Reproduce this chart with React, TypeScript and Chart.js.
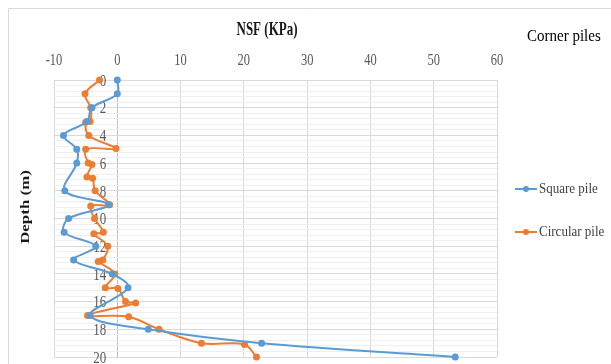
import React, { useEffect, useRef } from "react";
import { Chart, registerables } from "chart.js";

Chart.register(...registerables);

const chartTitle = "NSF (KPa)";
const sideTitle = "Corner piles";
const yTitle = "Depth (m)";
const seriesNames = ["Square pile", "Circular pile"];
const xTickLabels = [-10, 0, 10, 20, 30, 40, 50, 60];
const depthLabels = [0, 2, 4, 6, 8, 10, 12, 14, 16, 18, 20];

const squareDepth = [0, 1, 2, 3, 4, 5, 6, 8, 9, 10, 11, 12, 13, 14, 15, 17, 18, 19, 20];
const squareNSF = [0, 0, -4.0, -4.8, -8.5, -6.4, -6.4, -8.3, -1.4, -7.7, -8.4, -3.4, -6.9, -0.8, 1.7, -4.3, 4.9, 22.8, 53.4];

const circularDepth = [0, 1, 2, 3, 3.05, 4, 4.95, 5, 6, 6.1, 7, 7.1, 8, 9, 9.1, 10, 11, 11.1, 12, 13, 13.1, 14, 15, 15.05, 16, 16.1, 17, 17.1, 18, 19, 19.1, 20];
const circularNSF = [-2.8, -5.1, -4.2, -4.3, -5.0, -4.5, -0.2, -5.0, -4.6, -4.0, -4.8, -3.9, -3.5, -1.2, -4.2, -3.6, -2.2, -3.7, -1.5, -2.3, -3.0, -0.4, -1.9, 0.1, 1.3, 2.9, -4.7, 1.8, 6.6, 13.3, 20.1, 22.0];

const BLUE = "#5b9bd5";
const ORANGE = "#ed7d31";
const FONT = "'Liberation Serif', 'Times New Roman', serif";

function drawText(
  ctx: CanvasRenderingContext2D,
  s: string,
  x: number,
  y: number,
  size: number,
  bold: boolean,
  color: string,
  align: CanvasTextAlign,
  sy: number,
  rotate = false
) {
  ctx.save();
  ctx.translate(x, y);
  if (rotate) {
    ctx.rotate(-Math.PI / 2);
    ctx.scale(sy, 1);
  } else {
    ctx.scale(1, sy);
  }
  ctx.font = `${bold ? "bold " : ""}${size}px ${FONT}`;
  ctx.fillStyle = color;
  ctx.textAlign = align;
  ctx.textBaseline = "middle";
  ctx.fillText(s, 0, 0);
  ctx.restore();
}

const overlay = {
  id: "overlay",
  beforeDatasetsDraw(chart: any) {
    const { ctx, scales } = chart;
    const xs = scales.x;
    const ys = scales.y;
    const x0 = xs.getPixelForValue(0);
    depthLabels.forEach((d) => {
      drawText(ctx, String(d), x0 - 11, ys.getPixelForValue(d) + 1.5, 13, false, "#595959", "right", 1.25);
    });
  },
  afterDraw(chart: any) {
    const { ctx, scales } = chart;
    const xs = scales.x;
    ctx.save();
    ctx.strokeStyle = "#d9d9d9";
    ctx.lineWidth = 1;
    ctx.beginPath();
    ctx.moveTo(8.5, 400);
    ctx.lineTo(8.5, 8.5);
    ctx.lineTo(620, 8.5);
    ctx.stroke();
    ctx.restore();

    xTickLabels.forEach((v) => {
      drawText(ctx, String(v), xs.getPixelForValue(v), 61, 12.5, false, "#595959", "center", 1.35);
    });
    drawText(ctx, chartTitle, 267, 30, 13, true, "#1a1a1a", "center", 1.4);
    drawText(ctx, sideTitle, 527, 36, 15, false, "#000", "left", 1.15);
    drawText(ctx, yTitle, 26, 207, 13, true, "#1a1a1a", "center", 1.3, true);

    const items = [
      { name: seriesNames[0], color: BLUE, y: 189 },
      { name: seriesNames[1], color: ORANGE, y: 232 },
    ];
    items.forEach((it) => {
      ctx.save();
      ctx.strokeStyle = it.color;
      ctx.lineWidth = 2;
      ctx.beginPath();
      ctx.moveTo(515, it.y);
      ctx.lineTo(537, it.y);
      ctx.stroke();
      ctx.fillStyle = it.color;
      ctx.beginPath();
      ctx.arc(526, it.y, 3, 0, Math.PI * 2);
      ctx.fill();
      ctx.restore();
      drawText(ctx, it.name, 539, it.y, 13, false, "#404040", "left", 1.12);
    });
  },
};

export default function App() {
  const ref = useRef<HTMLCanvasElement | null>(null);
  useEffect(() => {
    if (!ref.current) return;
    const chart = new Chart(ref.current, {
      type: "scatter",
      data: {
        datasets: [
          {
            label: seriesNames[0],
            data: squareDepth.map((d, i) => ({ x: squareNSF[i], y: d })),
            showLine: true,
            borderColor: BLUE,
            backgroundColor: BLUE,
            borderWidth: 2,
            pointRadius: 3.5,
            pointBorderWidth: 0,
            tension: 0.35,
            clip: false,
          },
          {
            label: seriesNames[1],
            data: circularDepth.map((d, i) => ({ x: circularNSF[i], y: d })),
            showLine: true,
            borderColor: ORANGE,
            backgroundColor: ORANGE,
            borderWidth: 2,
            pointRadius: 3.5,
            pointBorderWidth: 0,
            tension: 0.35,
            clip: false,
          },
        ],
      },
      options: {
        animation: false,
        responsive: false,
        maintainAspectRatio: false,
        layout: { padding: { left: 54, right: 114, top: 8, bottom: 7 } },
        plugins: { legend: { display: false }, tooltip: { enabled: false } },
        scales: {
          x: {
            type: "linear",
            position: "top",
            min: xTickLabels[0],
            max: xTickLabels[xTickLabels.length - 1],
            ticks: { display: false, stepSize: 10 },
            grid: {
              color: (c: any) => (c.tick && c.tick.value === 0 ? "#bfbfbf" : "#d9d9d9"),
              drawTicks: false,
              lineWidth: 1,
            },
            border: { display: false },
            afterFit: (s: any) => {
              s.height = 72;
            },
          },
          y: {
            type: "linear",
            reverse: true,
            min: 0,
            max: 20,
            ticks: { display: false, stepSize: 0.4 },
            grid: {
              color: (c: any) => {
                const v = c.tick ? c.tick.value : 0;
                return Math.abs(v / 2 - Math.round(v / 2)) < 1e-6 ? "#d9d9d9" : "#efefef";
              },
              drawTicks: false,
              lineWidth: 1,
            },
            border: { display: false },
            afterFit: (s: any) => {
              s.width = 0;
            },
          },
        },
      },
      plugins: [overlay],
    });
    return () => chart.destroy();
  }, []);
  return (
    <div style={{ position: "absolute", left: 0, top: 0, width: 611, height: 364, background: "#fff" }}>
      <canvas ref={ref} width={611} height={364} style={{ display: "block", width: 611, height: 364 }} />
    </div>
  );
}
